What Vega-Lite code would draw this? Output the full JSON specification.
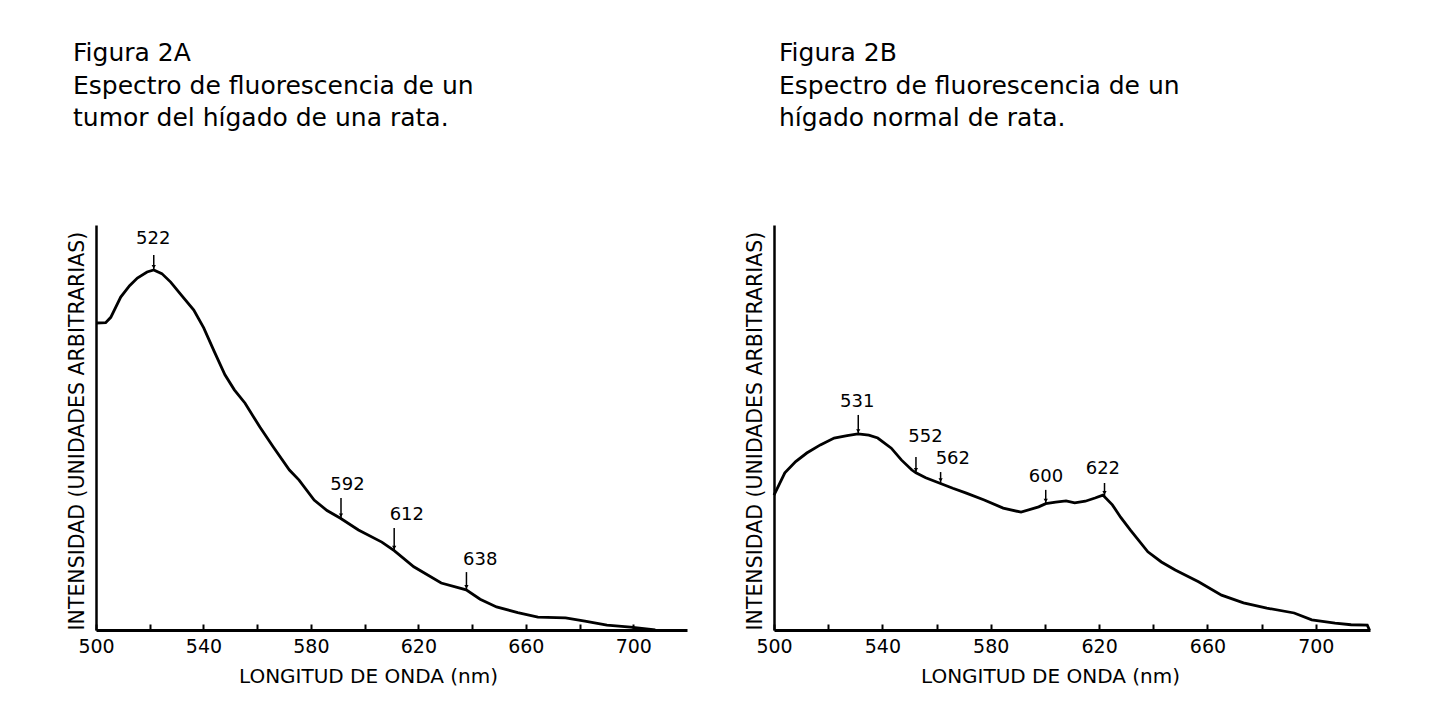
{
  "$schema": "https://vega.github.io/schema/vega-lite/v6.json",
  "background": "white",
  "padding": {"left": 67, "top": 41, "right": 0, "bottom": 0},
  "spacing": 58,
  "config": {
    "font": "DejaVu Sans",
    "view": {"stroke": null},
    "axis": {"grid": false, "domainColor": "black", "tickColor": "black", "labelColor": "black", "titleColor": "black", "titleFontWeight": "normal"},
    "title": {"color": "black", "fontWeight": "normal", "fontSize": 25, "lineHeight": 32.5, "anchor": "start", "frame": "group"}
  },
  "datasets": {
    "spectrumA": [
      {"nm": 500, "intensity": 75.8}, {"nm": 503.6, "intensity": 75.9}, {"nm": 505.5, "intensity": 77.2},
      {"nm": 509.2, "intensity": 82.2}, {"nm": 512.5, "intensity": 85.0}, {"nm": 515.4, "intensity": 86.9},
      {"nm": 519, "intensity": 88.4}, {"nm": 521.5, "intensity": 88.9}, {"nm": 524.5, "intensity": 88.0},
      {"nm": 527.8, "intensity": 85.9}, {"nm": 532, "intensity": 82.5}, {"nm": 536.4, "intensity": 79.0},
      {"nm": 540.1, "intensity": 74.6}, {"nm": 544, "intensity": 68.8}, {"nm": 548, "intensity": 63.0},
      {"nm": 551.5, "intensity": 59.3}, {"nm": 555.5, "intensity": 56.0}, {"nm": 561, "intensity": 50.1},
      {"nm": 566, "intensity": 45.2}, {"nm": 572, "intensity": 39.5}, {"nm": 575.6, "intensity": 37.0},
      {"nm": 581.2, "intensity": 32.1}, {"nm": 586, "intensity": 29.5}, {"nm": 591, "intensity": 27.6},
      {"nm": 597.7, "intensity": 24.7}, {"nm": 606.4, "intensity": 21.7}, {"nm": 611, "intensity": 19.6},
      {"nm": 618.3, "intensity": 15.6}, {"nm": 628.5, "intensity": 11.6}, {"nm": 637.8, "intensity": 9.9},
      {"nm": 643, "intensity": 7.6}, {"nm": 649.1, "intensity": 5.7}, {"nm": 657, "intensity": 4.3},
      {"nm": 664.5, "intensity": 3.2}, {"nm": 674.8, "intensity": 3.0}, {"nm": 682, "intensity": 2.2},
      {"nm": 690.2, "intensity": 1.2}, {"nm": 699, "intensity": 0.7}, {"nm": 708.2, "intensity": 0}
    ],
    "peaksA": [
      {"peak": "522", "nm": 521.5, "top": 92.6, "bottom": 88.9, "labelNm": 521.3, "labelY": 96.5},
      {"peak": "592", "nm": 591.2, "top": 32.6, "bottom": 27.6, "labelNm": 593.6, "labelY": 35.8},
      {"peak": "612", "nm": 611.0, "top": 25.2, "bottom": 19.6, "labelNm": 615.7, "labelY": 28.4},
      {"peak": "638", "nm": 637.9, "top": 14.3, "bottom": 9.9, "labelNm": 643.0, "labelY": 17.3}
    ],
    "spectrumB": [
      {"nm": 500, "intensity": 33.3}, {"nm": 504, "intensity": 38.8}, {"nm": 508, "intensity": 41.6},
      {"nm": 512.1, "intensity": 43.7}, {"nm": 517.1, "intensity": 45.7}, {"nm": 522.2, "intensity": 47.4},
      {"nm": 527, "intensity": 48.0}, {"nm": 531, "intensity": 48.4}, {"nm": 535, "intensity": 48.1},
      {"nm": 538.3, "intensity": 47.4}, {"nm": 543.3, "intensity": 44.9}, {"nm": 547, "intensity": 42.0},
      {"nm": 550.9, "intensity": 39.5}, {"nm": 552.4, "intensity": 38.8}, {"nm": 556, "intensity": 37.6},
      {"nm": 561, "intensity": 36.3}, {"nm": 566, "intensity": 35.0}, {"nm": 571, "intensity": 33.8},
      {"nm": 577.6, "intensity": 32.1}, {"nm": 584.6, "intensity": 30.1}, {"nm": 591.2, "intensity": 29.1},
      {"nm": 597.7, "intensity": 30.4}, {"nm": 600.3, "intensity": 31.2}, {"nm": 604, "intensity": 31.6},
      {"nm": 607.8, "intensity": 31.9}, {"nm": 611, "intensity": 31.4}, {"nm": 614.9, "intensity": 31.8},
      {"nm": 618.5, "intensity": 32.6}, {"nm": 621.4, "intensity": 33.3}, {"nm": 624.9, "intensity": 30.9},
      {"nm": 628, "intensity": 27.8}, {"nm": 631.5, "intensity": 24.7}, {"nm": 638, "intensity": 19.3},
      {"nm": 643, "intensity": 16.8}, {"nm": 648.1, "intensity": 14.8}, {"nm": 656.7, "intensity": 11.9},
      {"nm": 665.2, "intensity": 8.6}, {"nm": 673.3, "intensity": 6.7}, {"nm": 681.9, "intensity": 5.4},
      {"nm": 692, "intensity": 4.2}, {"nm": 698.5, "intensity": 2.5}, {"nm": 707.1, "intensity": 1.7},
      {"nm": 713, "intensity": 1.3}, {"nm": 719, "intensity": 1.2}, {"nm": 719.8, "intensity": 0}
    ],
    "peaksB": [
      {"peak": "531", "nm": 531.1, "top": 53.1, "bottom": 48.4, "labelNm": 530.7, "labelY": 56.3},
      {"peak": "552", "nm": 552.4, "top": 42.7, "bottom": 38.8, "labelNm": 555.9, "labelY": 47.7},
      {"peak": "562", "nm": 561.5, "top": 39.0, "bottom": 36.3, "labelNm": 566.0, "labelY": 42.2},
      {"peak": "600", "nm": 600.3, "top": 34.6, "bottom": 31.2, "labelNm": 600.4, "labelY": 37.8},
      {"peak": "622", "nm": 622.0, "top": 36.3, "bottom": 33.1, "labelNm": 621.4, "labelY": 39.8}
    ]
  },
  "hconcat": [
    {
      "width": 591,
      "height": 405,
      "title": {"text": ["Figura 2A", "Espectro de fluorescencia de un", "tumor del hígado de una rata."], "offset": 94, "dx": -23},
      "layer": [
        {
          "data": {"name": "spectrumA"},
          "mark": {"type": "line", "color": "black", "strokeWidth": 2.8},
          "encoding": {
            "x": {"field": "nm", "type": "quantitative", "scale": {"domain": [500, 720], "nice": false, "zero": false},
              "axis": {"title": "LONGITUD DE ONDA (nm)", "values": [500, 520, 540, 560, 580, 600, 620, 640, 660, 680, 700],
                "labelExpr": "(datum.value - 500) % 40 === 0 ? datum.label : ''", "tickSize": -6, "tickWidth": 2,
                "domainWidth": 3, "labelFontSize": 19, "labelPadding": 13, "labelFlush": false,
                "titleFontSize": 20, "titlePadding": 10, "titleX": 272}},
            "y": {"field": "intensity", "type": "quantitative", "scale": {"domain": [0, 100], "nice": false},
              "axis": {"title": "INTENSIDAD (UNIDADES ARBITRARIAS)", "ticks": false, "labels": false, "domainWidth": 2.5,
                "titleFontSize": 20.5, "titleAnchor": "start", "titlePadding": 9}}
          }
        },
        {
          "data": {"name": "peaksA"},
          "mark": {"type": "rule", "color": "black", "strokeWidth": 1.5},
          "encoding": {
            "x": {"field": "nm", "type": "quantitative"},
            "y": {"field": "top", "type": "quantitative"},
            "y2": {"field": "bottom"}
          }
        },
        {
          "data": {"name": "peaksA"},
          "mark": {"type": "point", "shape": "triangle-down", "filled": true, "size": 18, "color": "black", "opacity": 1, "yOffset": -3},
          "encoding": {
            "x": {"field": "nm", "type": "quantitative"},
            "y": {"field": "bottom", "type": "quantitative"}
          }
        },
        {
          "data": {"name": "peaksA"},
          "mark": {"type": "text", "fontSize": 18, "baseline": "middle", "color": "black"},
          "encoding": {
            "x": {"field": "labelNm", "type": "quantitative"},
            "y": {"field": "labelY", "type": "quantitative"},
            "text": {"field": "peak"}
          }
        }
      ]
    },
    {
      "width": 596,
      "height": 405,
      "title": {"text": ["Figura 2B", "Espectro de fluorescencia de un", "hígado normal de rata."], "offset": 94, "dx": 5},
      "layer": [
        {
          "data": {"name": "spectrumB"},
          "mark": {"type": "line", "color": "black", "strokeWidth": 2.8},
          "encoding": {
            "x": {"field": "nm", "type": "quantitative", "scale": {"domain": [500, 720], "nice": false, "zero": false},
              "axis": {"title": "LONGITUD DE ONDA (nm)", "values": [500, 520, 540, 560, 580, 600, 620, 640, 660, 680, 700],
                "labelExpr": "(datum.value - 500) % 40 === 0 ? datum.label : ''", "tickSize": -6, "tickWidth": 2,
                "domainWidth": 3, "labelFontSize": 19, "labelPadding": 13, "labelFlush": false,
                "titleFontSize": 20, "titlePadding": 10, "titleX": 276}},
            "y": {"field": "intensity", "type": "quantitative", "scale": {"domain": [0, 100], "nice": false},
              "axis": {"title": "INTENSIDAD (UNIDADES ARBITRARIAS)", "ticks": false, "labels": false, "domainWidth": 2.5,
                "titleFontSize": 20.5, "titleAnchor": "start", "titlePadding": 9}}
          }
        },
        {
          "data": {"name": "peaksB"},
          "mark": {"type": "rule", "color": "black", "strokeWidth": 1.5},
          "encoding": {
            "x": {"field": "nm", "type": "quantitative"},
            "y": {"field": "top", "type": "quantitative"},
            "y2": {"field": "bottom"}
          }
        },
        {
          "data": {"name": "peaksB"},
          "mark": {"type": "point", "shape": "triangle-down", "filled": true, "size": 18, "color": "black", "opacity": 1, "yOffset": -3},
          "encoding": {
            "x": {"field": "nm", "type": "quantitative"},
            "y": {"field": "bottom", "type": "quantitative"}
          }
        },
        {
          "data": {"name": "peaksB"},
          "mark": {"type": "text", "fontSize": 18, "baseline": "middle", "color": "black"},
          "encoding": {
            "x": {"field": "labelNm", "type": "quantitative"},
            "y": {"field": "labelY", "type": "quantitative"},
            "text": {"field": "peak"}
          }
        }
      ]
    }
  ]
}
